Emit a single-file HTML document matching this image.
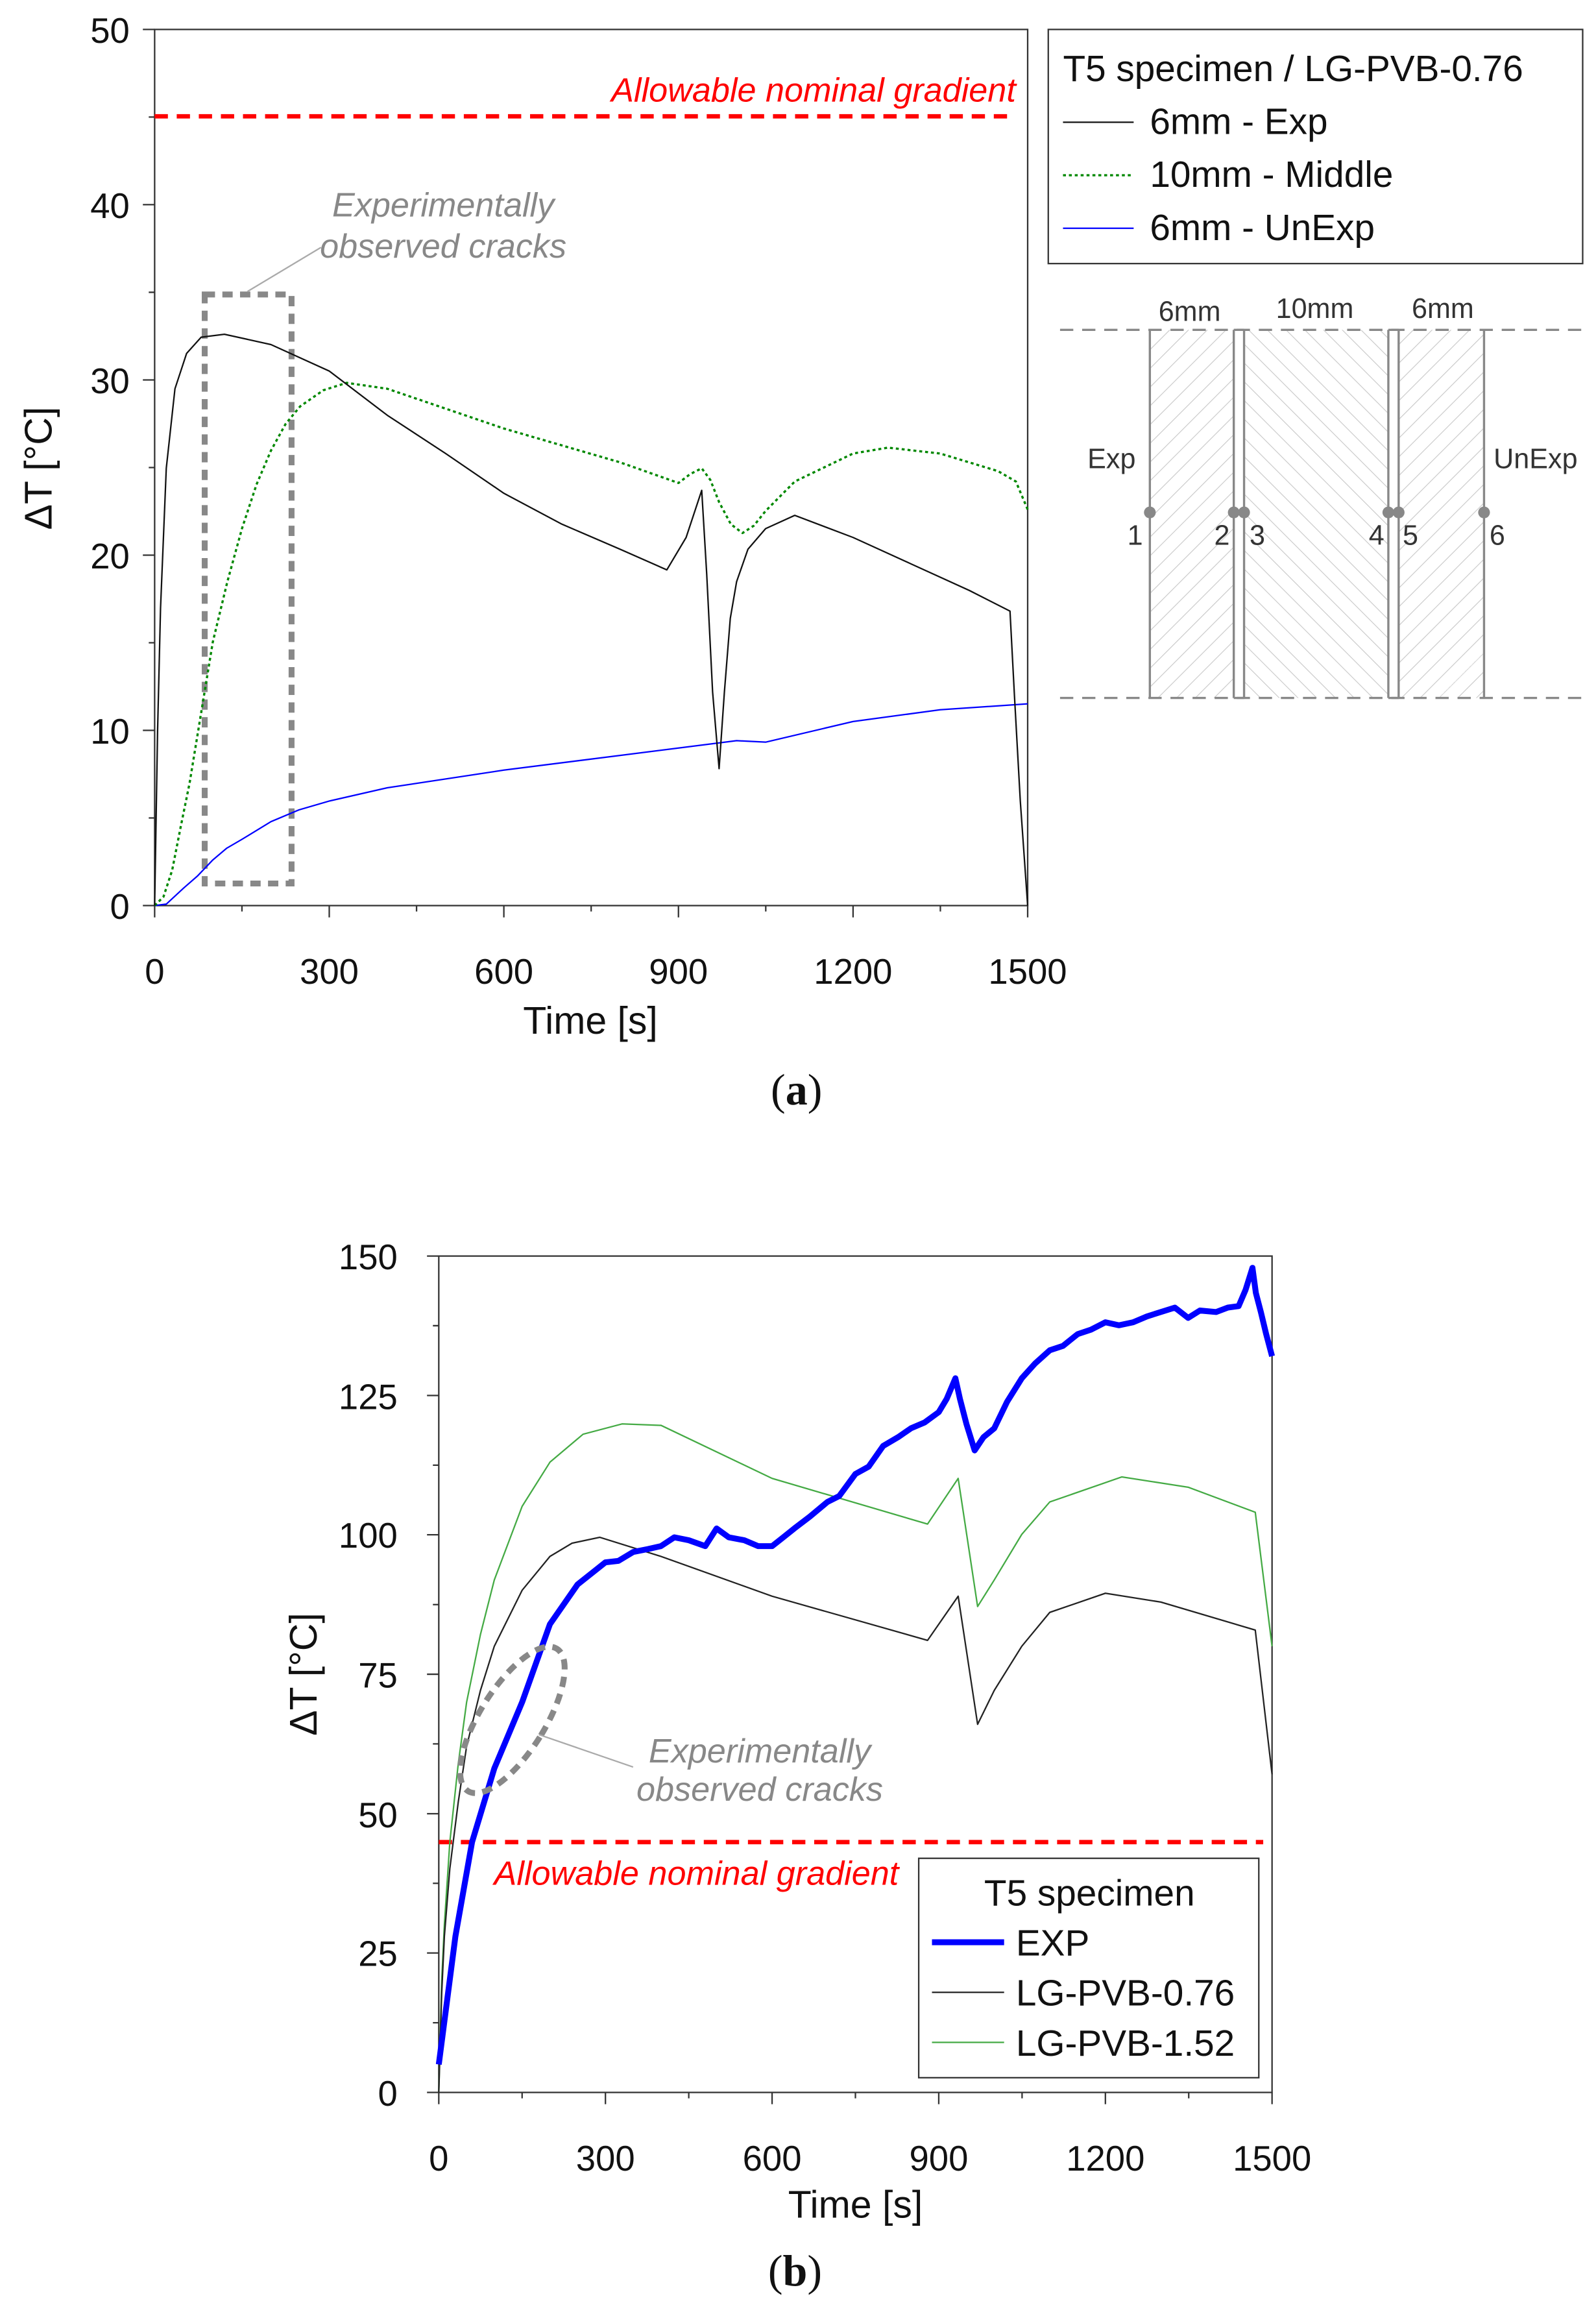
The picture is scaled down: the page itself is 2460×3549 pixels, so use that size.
<!DOCTYPE html>
<html><head><meta charset="utf-8"><style>html,body{margin:0;padding:0;background:#fff}svg{display:block}</style></head>
<body>
<svg width="2460" height="3549" viewBox="0 0 1084 1564" xmlns="http://www.w3.org/2000/svg" font-family="Liberation Sans, sans-serif">
<defs>
<pattern id="h1" width="9" height="9" patternUnits="userSpaceOnUse" patternTransform="rotate(45)"><line x1="0" y1="0" x2="0" y2="9" stroke="#c8c8c8" stroke-width="1"/></pattern>
<pattern id="h2" width="9" height="9" patternUnits="userSpaceOnUse" patternTransform="rotate(-45)"><line x1="0" y1="0" x2="0" y2="9" stroke="#c8c8c8" stroke-width="1"/></pattern>
</defs>
<rect width="1084" height="1564" fill="#fff"/>
<!-- Chart a -->
<g stroke="#333" stroke-width="1" fill="none">
<rect x="105" y="20" width="593" height="595"/>
<path d="M97 20H105M97 139H105M97 258H105M97 377H105M97 496H105M97 615H105"/>
<path d="M101 79.5H105M101 198.5H105M101 317.5H105M101 436.5H105M101 555.5H105"/>
<path d="M105 615V623M223.6 615V623M342.2 615V623M460.8 615V623M579.4 615V623M698 615V623"/>
<path d="M164.3 615V619M282.9 615V619M401.5 615V619M520.1 615V619M638.7 615V619"/>
</g>
<g font-size="24" fill="#111" text-anchor="end">
<text x="88" y="29">50</text><text x="88" y="148">40</text><text x="88" y="267">30</text><text x="88" y="386">20</text><text x="88" y="505">10</text><text x="88" y="624">0</text>
</g>
<g font-size="24" fill="#111" text-anchor="middle">
<text x="105" y="668">0</text><text x="223.6" y="668">300</text><text x="342.2" y="668">600</text><text x="460.8" y="668">900</text><text x="579.4" y="668">1200</text><text x="698" y="668">1500</text>
<text x="401" y="702" font-size="26">Time  [s]</text>
<text transform="translate(35,318) rotate(-90)" font-size="26">ΔT  [°C]</text>
<text x="541" y="750" font-family="Liberation Serif, serif" font-size="30">(<tspan font-weight="bold">a</tspan>)</text>
</g>
<line x1="105" y1="79" x2="690" y2="79" stroke="#f00" stroke-width="3" stroke-dasharray="9,6"/>
<text x="690" y="69" text-anchor="end" fill="#f00" font-size="23" font-style="italic">Allowable nominal gradient</text>
<rect x="139" y="200" width="59" height="400" fill="none" stroke="#888" stroke-width="4" stroke-dasharray="7,5"/>
<line x1="168" y1="198" x2="218" y2="168" stroke="#aaa" stroke-width="1"/>
<g fill="#888" font-size="23" font-style="italic" text-anchor="middle"><text x="301" y="147">Experimentally</text><text x="301" y="175">observed cracks</text></g>
<g stroke-linejoin="round" fill="none">
<polyline stroke="#00f" stroke-width="1" points="105,615 112.9,614 124.8,603 134,595 144.5,584 154,576 164.3,570 184,558 203,550 223.6,544 263,535 342.2,523 421.2,513 460.8,508 500.3,503 520,504 579.4,490 638.6,482 698,478"/>
<polyline stroke="#080" stroke-width="1.5" stroke-dasharray="2,2" points="105,615 111,609 116.9,591 122.8,561 128.7,532 136.6,484 144.5,436 154.4,395 164.3,359 174.2,329 184,306 193.9,288 203.8,276 219.6,265 235.4,260 263,264 342.2,291 421.2,314 460.8,328 468.7,322 476.6,318 482.5,326 488.4,341 496.4,356 504.3,362 512,357 520,347 539.8,327 579.4,308 603,304 638.6,308 678,320 690,327 698,346"/>
<polyline stroke="#111" stroke-width="1" points="105,615 107,496 109,413 112.9,318 118.8,264 126.7,240 136.6,229 152.4,227 184,234 223.6,252 263,282 302.7,308 342.2,335 381.7,356 421.2,373 452.9,387 466,365 476.6,333 480,390 484,470 488.4,522 492,470 496,420 500.3,395 508,373 520,359 539.8,350 579.4,365 618.9,383 658.4,401 686,415 689,472 693,544 698,615"/>
</g>
<!-- legend a -->
<rect x="712" y="20" width="363" height="159" fill="#fff" stroke="#333" stroke-width="1"/>
<g font-size="25" fill="#111"><text x="722" y="55">T5 specimen / LG-PVB-0.76</text><text x="781" y="91">6mm - Exp</text><text x="781" y="127">10mm - Middle</text><text x="781" y="163">6mm - UnExp</text></g>
<line x1="722" y1="83" x2="770" y2="83" stroke="#111"/>
<line x1="722" y1="119" x2="770" y2="119" stroke="#080" stroke-width="1.5" stroke-dasharray="2,2"/>
<line x1="722" y1="155" x2="770" y2="155" stroke="#00f"/>
<!-- diagram -->
<rect x="781" y="224" width="57" height="250" fill="url(#h1)"/>
<rect x="845" y="224" width="98" height="250" fill="url(#h2)"/>
<rect x="950" y="224" width="58" height="250" fill="url(#h1)"/>
<g stroke="#888" stroke-width="1.5" fill="none">
<line x1="720" y1="224" x2="1075" y2="224" stroke-dasharray="9,6"/>
<line x1="720" y1="474" x2="1075" y2="474" stroke-dasharray="9,6"/>
<path d="M781 224V474M838 224V474M845 224V474M943 224V474M950 224V474M1008 224V474M838 224H845M943 224H950M838 474H845M943 474H950"/>
</g>
<g fill="#888"><circle cx="781" cy="348" r="4"/><circle cx="838" cy="348" r="4"/><circle cx="845" cy="348" r="4"/><circle cx="943" cy="348" r="4"/><circle cx="950" cy="348" r="4"/><circle cx="1008" cy="348" r="4"/></g>
<g font-size="19" fill="#333" text-anchor="middle">
<text x="808" y="218">6mm</text><text x="893" y="216">10mm</text><text x="980" y="216">6mm</text>
<text x="755" y="318">Exp</text><text x="1043" y="318">UnExp</text>
<text x="771" y="370">1</text><text x="830" y="370">2</text><text x="854" y="370">3</text><text x="935" y="370">4</text><text x="958" y="370">5</text><text x="1017" y="370">6</text>
</g>
<!-- Chart b -->
<g stroke="#333" stroke-width="1" fill="none">
<rect x="298" y="853" width="566" height="568"/>
<path d="M290 853H298M290 947.7H298M290 1042.3H298M290 1137H298M290 1231.7H298M290 1326.3H298M290 1421H298"/>
<path d="M294 900.3H298M294 995H298M294 1089.7H298M294 1184.3H298M294 1279H298M294 1373.7H298"/>
<path d="M298 1421V1429M411.2 1421V1429M524.4 1421V1429M637.6 1421V1429M750.8 1421V1429M864 1421V1429"/>
<path d="M354.6 1421V1425M467.8 1421V1425M581 1421V1425M694.2 1421V1425M807.4 1421V1425"/>
</g>
<g font-size="24" fill="#111" text-anchor="end">
<text x="270" y="862">150</text><text x="270" y="957">125</text><text x="270" y="1051">100</text><text x="270" y="1146">75</text><text x="270" y="1241">50</text><text x="270" y="1335">25</text><text x="270" y="1430">0</text>
</g>
<g font-size="24" fill="#111" text-anchor="middle">
<text x="298" y="1474">0</text><text x="411.2" y="1474">300</text><text x="524.4" y="1474">600</text><text x="637.6" y="1474">900</text><text x="750.8" y="1474">1200</text><text x="864" y="1474">1500</text>
<text x="581" y="1506" font-size="26">Time  [s]</text>
<text transform="translate(215,1137) rotate(-90)" font-size="26">ΔT  [°C]</text>
<text x="540" y="1552" font-family="Liberation Serif, serif" font-size="30">(<tspan font-weight="bold">b</tspan>)</text>
</g>
<line x1="298" y1="1251" x2="858" y2="1251" stroke="#f00" stroke-width="3" stroke-dasharray="9,6"/>
<text x="473" y="1280" text-anchor="middle" fill="#f00" font-size="23" font-style="italic">Allowable nominal gradient</text>
<g stroke-linejoin="round" fill="none">
<polyline stroke="#4a4" stroke-width="1" points="298,1421 300,1345 301.8,1307 305.5,1251 311.2,1198 316.9,1156 326.3,1110 335.7,1073 354.6,1023 373.5,993 396,974 422.5,967 449,968 524.4,1004 630,1035 650.8,1004 664,1091 675.3,1073 694,1042 713,1020 762,1003 807,1010 852.6,1027 864,1118"/>
<polyline stroke="#222" stroke-width="1" points="298,1421 300,1353 301.8,1315 305.5,1269 311.2,1224 316.9,1186 326.3,1148 335.7,1118 354.6,1080 373.5,1057 388.5,1048 407.4,1044 449,1057 524.4,1084 630,1114 650.8,1084 664,1171 675.3,1148 694,1118 713,1095 750.8,1082 788.5,1088 852.6,1107 864,1205"/>
<polyline stroke="#00f" stroke-width="4" points="298,1402 309.3,1315 320.6,1251 335.7,1201 354.6,1156 373.5,1103 392.3,1076 411.2,1061 420,1060 430,1054 440,1052 448.9,1050 458,1044 467.8,1046 479,1050 486.7,1038 495,1044 505.5,1046 515,1050 524.4,1050 532,1044 539.5,1038 550,1030 562,1020 570,1016 581,1001 590,996 599.8,982 610,976 618.7,970 628,966 637.6,959 643,950 648.9,936 652,950 656.4,967 662,985 668,976 675.3,970 684,952 694,936 703,926 713,917 722,914 732,906 741,903 750.8,898 760,900 769.6,898 779,894 788.5,891 798,888 807,895 815,890 826,891 834,888 841.3,887 846,876 850.7,861 853,878 856.4,891 860,906 864,921"/>
</g>
<ellipse cx="348" cy="1168" rx="22" ry="57" transform="rotate(32 348 1168)" fill="none" stroke="#888" stroke-width="4" stroke-dasharray="7,5"/>
<line x1="366" y1="1178" x2="430" y2="1200" stroke="#aaa" stroke-width="1"/>
<g fill="#888" font-size="23" font-style="italic" text-anchor="middle"><text x="516" y="1197">Experimentally</text><text x="516" y="1223">observed cracks</text></g>
<rect x="624" y="1262" width="231" height="149" fill="#fff" stroke="#333" stroke-width="1"/>
<g font-size="25" fill="#111"><text x="740" y="1294" text-anchor="middle">T5 specimen</text><text x="690" y="1328">EXP</text><text x="690" y="1362">LG-PVB-0.76</text><text x="690" y="1396">LG-PVB-1.52</text></g>
<line x1="633" y1="1319" x2="682" y2="1319" stroke="#00f" stroke-width="4"/>
<line x1="633" y1="1353" x2="682" y2="1353" stroke="#222"/>
<line x1="633" y1="1387" x2="682" y2="1387" stroke="#4a4"/>
</svg>
</body></html>
